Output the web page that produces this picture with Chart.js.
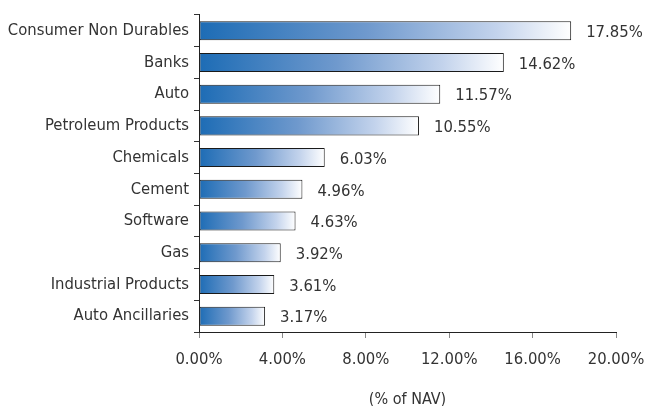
<!DOCTYPE html>
<html>
<head>
<meta charset="utf-8">
<script src="https://cdn.jsdelivr.net/npm/chart.js@4.4.1/dist/chart.umd.min.js"></script>
<style>
  html, body { margin: 0; padding: 0; background: #fff; }
  #wrap { width: 647px; height: 406px; position: relative; }
</style>
</head>
<body>
<div id="wrap"><canvas id="chart"></canvas></div>
<script>
// Sector allocation (% of NAV)
const sectors = [
    'Consumer Non Durables', 'Banks', 'Auto', 'Petroleum Products', 'Chemicals',
    'Cement', 'Software', 'Gas', 'Industrial Products', 'Auto Ancillaries'
];
const weights = [17.85, 14.62, 11.57, 10.55, 6.03, 4.96, 4.63, 3.92, 3.61, 3.17];
const xTicks = [0, 4, 8, 12, 16, 20];

const FONT = "'Liberation Sans Narrow', 'DejaVu Sans Condensed', 'Liberation Sans', sans-serif";

// each bar fades from blue at its base to white at its own end
function barGradient(context) {
    const chart = context.chart;
    const x = chart.scales.x;
    if (!x || context.dataIndex === undefined) return '#2a74bb';
    const x0 = x.getPixelForValue(0);
    const x1 = x.getPixelForValue(weights[context.dataIndex]);
    if (!isFinite(x0) || !isFinite(x1) || x1 <= x0) return '#2a74bb';
    const g = chart.ctx.createLinearGradient(x0, 0, x1, 0);
    g.addColorStop(0, '#1d6cb5');
    g.addColorStop(0.45, '#6f99cd');
    g.addColorStop(0.8, '#c3d3ec');
    g.addColorStop(1, '#ffffff');
    return g;
}

const valueLabels = {
    id: 'valueLabels',
    afterDatasetsDraw(chart) {
        const ctx = chart.ctx;
        const meta = chart.getDatasetMeta(0);
        ctx.save();
        ctx.font = '16.5px ' + FONT;
        ctx.fillStyle = '#333';
        ctx.textAlign = 'left';
        ctx.textBaseline = 'middle';
        meta.data.forEach((bar, i) => {
            ctx.fillText(weights[i].toFixed(2) + '%', bar.x + 15, bar.y + 2);
        });
        ctx.restore();
    }
};

new Chart(document.getElementById('chart'), {
    type: 'bar',
    data: {
        labels: sectors,
        datasets: [{
            data: weights,
            backgroundColor: barGradient,
            borderColor: '#1a1a1a',
            borderWidth: 1,
            borderSkipped: false,
            categoryPercentage: 1,
            barPercentage: 0.6
        }]
    },
    options: {
        indexAxis: 'y',
        responsive: true,
        maintainAspectRatio: false,
        animation: false,
        layout: { padding: { top: 14, right: 31, bottom: 0, left: 0 } },
        plugins: {
            legend: { display: false },
            tooltip: { enabled: false }
        },
        scales: {
            x: {
                min: 0,
                max: 20,
                afterBuildTicks: (scale) => { scale.ticks = xTicks.map(v => ({ value: v })); },
                afterFit: (scale) => {
                    scale.height = 74;
                    scale.paddingLeft = 0;
                    scale.paddingRight = 0;
                },
                border: { display: true, color: '#222', width: 1 },
                grid: { drawOnChartArea: false, drawTicks: true, tickLength: 6, color: '#888' },
                ticks: {
                    color: '#333',
                    font: { family: FONT, size: 16.5 },
                    padding: 12,
                    callback: (v) => Number(v).toFixed(2) + '%'
                },
                title: {
                    display: true,
                    text: '(% of NAV)',
                    color: '#333',
                    font: { family: FONT, size: 16 },
                    padding: { top: 10, bottom: -3 }
                }
            },
            y: {
                afterFit: (scale) => { scale.width = 199; },
                border: { display: true, color: '#222', width: 1 },
                grid: { drawOnChartArea: false, drawTicks: true, tickLength: 5, offset: true, color: '#333' },
                ticks: {
                    color: '#333',
                    font: { family: FONT, size: 16.5 },
                    padding: 5
                }
            }
        }
    },
    plugins: [valueLabels]
});
</script>
</body>
</html>
